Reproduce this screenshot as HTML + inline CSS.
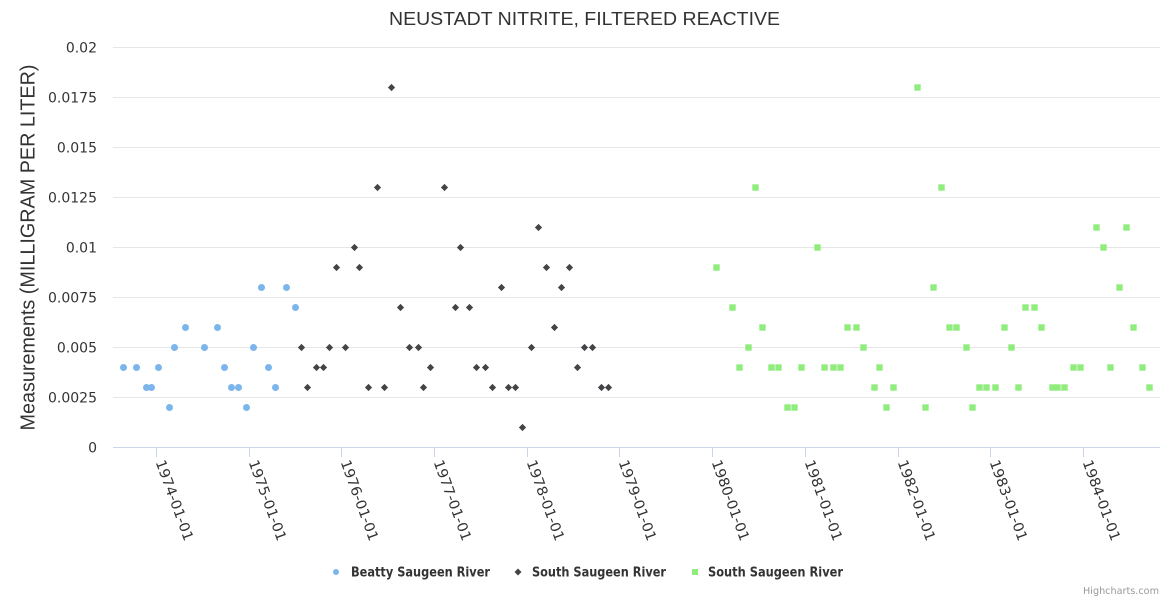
<!DOCTYPE html>
<html><head><meta charset="utf-8"><style>
html,body{margin:0;padding:0;background:#fff;}
svg{display:block;}
text{font-family:"DejaVu Sans","Liberation Sans",sans-serif;}
</style></head><body>
<svg width="1170" height="600" viewBox="0 0 1170 600" xmlns="http://www.w3.org/2000/svg">
<rect width="1170" height="600" fill="#fff"/>
<text x="584.5" y="25" text-anchor="middle" font-size="18" fill="#333333" style="font-family:'Liberation Sans',sans-serif" textLength="391" lengthAdjust="spacingAndGlyphs">NEUSTADT NITRITE, FILTERED REACTIVE</text>
<g stroke="#e6e6e6" stroke-width="1">
<line x1="113" y1="47.5" x2="1160" y2="47.5"/>
<line x1="113" y1="97.5" x2="1160" y2="97.5"/>
<line x1="113" y1="147.5" x2="1160" y2="147.5"/>
<line x1="113" y1="197.5" x2="1160" y2="197.5"/>
<line x1="113" y1="247.5" x2="1160" y2="247.5"/>
<line x1="113" y1="297.5" x2="1160" y2="297.5"/>
<line x1="113" y1="347.5" x2="1160" y2="347.5"/>
<line x1="113" y1="397.5" x2="1160" y2="397.5"/>
</g>
<line x1="113" y1="447.5" x2="1160" y2="447.5" stroke="#ccd6eb" stroke-width="1"/>
<g stroke="#ccd6eb" stroke-width="1">
<line x1="156.5" y1="447" x2="156.5" y2="457"/>
<line x1="249.5" y1="447" x2="249.5" y2="457"/>
<line x1="341.5" y1="447" x2="341.5" y2="457"/>
<line x1="434.5" y1="447" x2="434.5" y2="457"/>
<line x1="527.5" y1="447" x2="527.5" y2="457"/>
<line x1="619.5" y1="447" x2="619.5" y2="457"/>
<line x1="712.5" y1="447" x2="712.5" y2="457"/>
<line x1="805.5" y1="447" x2="805.5" y2="457"/>
<line x1="898.5" y1="447" x2="898.5" y2="457"/>
<line x1="990.5" y1="447" x2="990.5" y2="457"/>
<line x1="1083.5" y1="447" x2="1083.5" y2="457"/>
</g>
<g font-size="14" fill="#333333" text-anchor="end">
<text x="97" y="52.5">0.02</text>
<text x="97" y="102.5">0.0175</text>
<text x="97" y="152.5">0.015</text>
<text x="97" y="202.5">0.0125</text>
<text x="97" y="252.5">0.01</text>
<text x="97" y="302.5">0.0075</text>
<text x="97" y="352.5">0.005</text>
<text x="97" y="402.5">0.0025</text>
<text x="97" y="452.5">0</text>
</g>
<text transform="translate(34.5,247.5) rotate(-90)" text-anchor="middle" font-size="20" fill="#333333" style="font-family:'Liberation Sans',sans-serif" textLength="366" lengthAdjust="spacingAndGlyphs">Measurements (MILLIGRAM PER LITER)</text>
<g font-size="14" fill="#333333">
<text transform="translate(155.5,462) rotate(70)" textLength="85" lengthAdjust="spacingAndGlyphs">1974-01-01</text>
<text transform="translate(248.5,462) rotate(70)" textLength="85" lengthAdjust="spacingAndGlyphs">1975-01-01</text>
<text transform="translate(340.5,462) rotate(70)" textLength="85" lengthAdjust="spacingAndGlyphs">1976-01-01</text>
<text transform="translate(433.5,462) rotate(70)" textLength="85" lengthAdjust="spacingAndGlyphs">1977-01-01</text>
<text transform="translate(526.5,462) rotate(70)" textLength="85" lengthAdjust="spacingAndGlyphs">1978-01-01</text>
<text transform="translate(618.5,462) rotate(70)" textLength="85" lengthAdjust="spacingAndGlyphs">1979-01-01</text>
<text transform="translate(711.5,462) rotate(70)" textLength="85" lengthAdjust="spacingAndGlyphs">1980-01-01</text>
<text transform="translate(804.5,462) rotate(70)" textLength="85" lengthAdjust="spacingAndGlyphs">1981-01-01</text>
<text transform="translate(897.5,462) rotate(70)" textLength="85" lengthAdjust="spacingAndGlyphs">1982-01-01</text>
<text transform="translate(989.5,462) rotate(70)" textLength="85" lengthAdjust="spacingAndGlyphs">1983-01-01</text>
<text transform="translate(1082.5,462) rotate(70)" textLength="85" lengthAdjust="spacingAndGlyphs">1984-01-01</text>
</g>
<!-- Beatty Saugeen River -->
<g fill="#7cb5ec">
<circle cx="123.5" cy="367.5" r="3.5"/>
<circle cx="136.5" cy="367.5" r="3.5"/>
<circle cx="146.5" cy="387.5" r="3.5"/>
<circle cx="151.5" cy="387.5" r="3.5"/>
<circle cx="158.5" cy="367.5" r="3.5"/>
<circle cx="169.5" cy="407.5" r="3.5"/>
<circle cx="174.5" cy="347.5" r="3.5"/>
<circle cx="185.5" cy="327.5" r="3.5"/>
<circle cx="204.5" cy="347.5" r="3.5"/>
<circle cx="217.5" cy="327.5" r="3.5"/>
<circle cx="224.5" cy="367.5" r="3.5"/>
<circle cx="231.5" cy="387.5" r="3.5"/>
<circle cx="238.5" cy="387.5" r="3.5"/>
<circle cx="246.5" cy="407.5" r="3.5"/>
<circle cx="253.5" cy="347.5" r="3.5"/>
<circle cx="261.5" cy="287.5" r="3.5"/>
<circle cx="268.5" cy="367.5" r="3.5"/>
<circle cx="275.5" cy="387.5" r="3.5"/>
<circle cx="286.5" cy="287.5" r="3.5"/>
<circle cx="295.5" cy="307.5" r="3.5"/>
</g>
<!-- South Saugeen River (diamonds) -->
<defs>
<path id="d" d="M0,-3.6 L3.6,0 L0,3.6 L-3.6,0 Z"/>
<rect id="s" x="-3.2" y="-3.2" width="6.4" height="6.4"/>
</defs>
<g fill="#434348">
<use href="#d" x="301.5" y="347.5"/>
<use href="#d" x="307.5" y="387.5"/>
<use href="#d" x="316.5" y="367.5"/>
<use href="#d" x="323.5" y="367.5"/>
<use href="#d" x="329.5" y="347.5"/>
<use href="#d" x="336.5" y="267.5"/>
<use href="#d" x="345.5" y="347.5"/>
<use href="#d" x="354.5" y="247.5"/>
<use href="#d" x="359.5" y="267.5"/>
<use href="#d" x="368.5" y="387.5"/>
<use href="#d" x="377.5" y="187.5"/>
<use href="#d" x="384.5" y="387.5"/>
<use href="#d" x="391.5" y="87.5"/>
<use href="#d" x="400.5" y="307.5"/>
<use href="#d" x="409.5" y="347.5"/>
<use href="#d" x="418.5" y="347.5"/>
<use href="#d" x="423.5" y="387.5"/>
<use href="#d" x="430.5" y="367.5"/>
<use href="#d" x="444.5" y="187.5"/>
<use href="#d" x="455.5" y="307.5"/>
<use href="#d" x="460.5" y="247.5"/>
<use href="#d" x="469.5" y="307.5"/>
<use href="#d" x="476.5" y="367.5"/>
<use href="#d" x="485.5" y="367.5"/>
<use href="#d" x="492.5" y="387.5"/>
<use href="#d" x="501.5" y="287.5"/>
<use href="#d" x="508.5" y="387.5"/>
<use href="#d" x="515.5" y="387.5"/>
<use href="#d" x="522.5" y="427.5"/>
<use href="#d" x="531.5" y="347.5"/>
<use href="#d" x="538.5" y="227.5"/>
<use href="#d" x="546.5" y="267.5"/>
<use href="#d" x="554.5" y="327.5"/>
<use href="#d" x="561.5" y="287.5"/>
<use href="#d" x="569.5" y="267.5"/>
<use href="#d" x="577.5" y="367.5"/>
<use href="#d" x="584.5" y="347.5"/>
<use href="#d" x="592.5" y="347.5"/>
<use href="#d" x="601.5" y="387.5"/>
<use href="#d" x="608.5" y="387.5"/>
</g>
<!-- South Saugeen River (squares) -->
<g fill="#90ed7d">
<use href="#s" x="716.5" y="267.5"/>
<use href="#s" x="732.5" y="307.5"/>
<use href="#s" x="739.5" y="367.5"/>
<use href="#s" x="748.5" y="347.5"/>
<use href="#s" x="755.5" y="187.5"/>
<use href="#s" x="762.5" y="327.5"/>
<use href="#s" x="771.5" y="367.5"/>
<use href="#s" x="778.5" y="367.5"/>
<use href="#s" x="787.5" y="407.5"/>
<use href="#s" x="794.5" y="407.5"/>
<use href="#s" x="801.5" y="367.5"/>
<use href="#s" x="817.5" y="247.5"/>
<use href="#s" x="824.5" y="367.5"/>
<use href="#s" x="833.5" y="367.5"/>
<use href="#s" x="840.5" y="367.5"/>
<use href="#s" x="847.5" y="327.5"/>
<use href="#s" x="856.5" y="327.5"/>
<use href="#s" x="863.5" y="347.5"/>
<use href="#s" x="874.5" y="387.5"/>
<use href="#s" x="879.5" y="367.5"/>
<use href="#s" x="886.5" y="407.5"/>
<use href="#s" x="893.5" y="387.5"/>
<use href="#s" x="917.5" y="87.5"/>
<use href="#s" x="925.5" y="407.5"/>
<use href="#s" x="933.5" y="287.5"/>
<use href="#s" x="941.5" y="187.5"/>
<use href="#s" x="949.5" y="327.5"/>
<use href="#s" x="956.5" y="327.5"/>
<use href="#s" x="966.5" y="347.5"/>
<use href="#s" x="972.5" y="407.5"/>
<use href="#s" x="979.5" y="387.5"/>
<use href="#s" x="986.5" y="387.5"/>
<use href="#s" x="995.5" y="387.5"/>
<use href="#s" x="1004.5" y="327.5"/>
<use href="#s" x="1011.5" y="347.5"/>
<use href="#s" x="1018.5" y="387.5"/>
<use href="#s" x="1025.5" y="307.5"/>
<use href="#s" x="1034.5" y="307.5"/>
<use href="#s" x="1041.5" y="327.5"/>
<use href="#s" x="1052.5" y="387.5"/>
<use href="#s" x="1057.5" y="387.5"/>
<use href="#s" x="1064.5" y="387.5"/>
<use href="#s" x="1073.5" y="367.5"/>
<use href="#s" x="1080.5" y="367.5"/>
<use href="#s" x="1096.5" y="227.5"/>
<use href="#s" x="1103.5" y="247.5"/>
<use href="#s" x="1110.5" y="367.5"/>
<use href="#s" x="1119.5" y="287.5"/>
<use href="#s" x="1126.5" y="227.5"/>
<use href="#s" x="1133.5" y="327.5"/>
<use href="#s" x="1142.5" y="367.5"/>
<use href="#s" x="1149.5" y="387.5"/>
</g>
<!-- Legend -->
<circle cx="336" cy="572" r="3" fill="#7cb5ec"/>
<path d="M518,568.5 L521.5,572 L518,575.5 L514.5,572 Z" fill="#434348"/>
<rect x="692" y="569" width="6" height="6" fill="#90ed7d"/>
<g font-size="13" font-weight="bold" fill="#333333" style="font-family:'Liberation Sans',sans-serif">
<text x="351" y="576.5" textLength="139" lengthAdjust="spacingAndGlyphs">Beatty Saugeen River</text>
<text x="532" y="576.5" textLength="134" lengthAdjust="spacingAndGlyphs">South Saugeen River</text>
<text x="708" y="576.5" textLength="135" lengthAdjust="spacingAndGlyphs">South Saugeen River</text>
</g>
<text x="1159" y="594" text-anchor="end" font-size="10" fill="#999999" textLength="76" lengthAdjust="spacingAndGlyphs">Highcharts.com</text>
</svg>
</body></html>
